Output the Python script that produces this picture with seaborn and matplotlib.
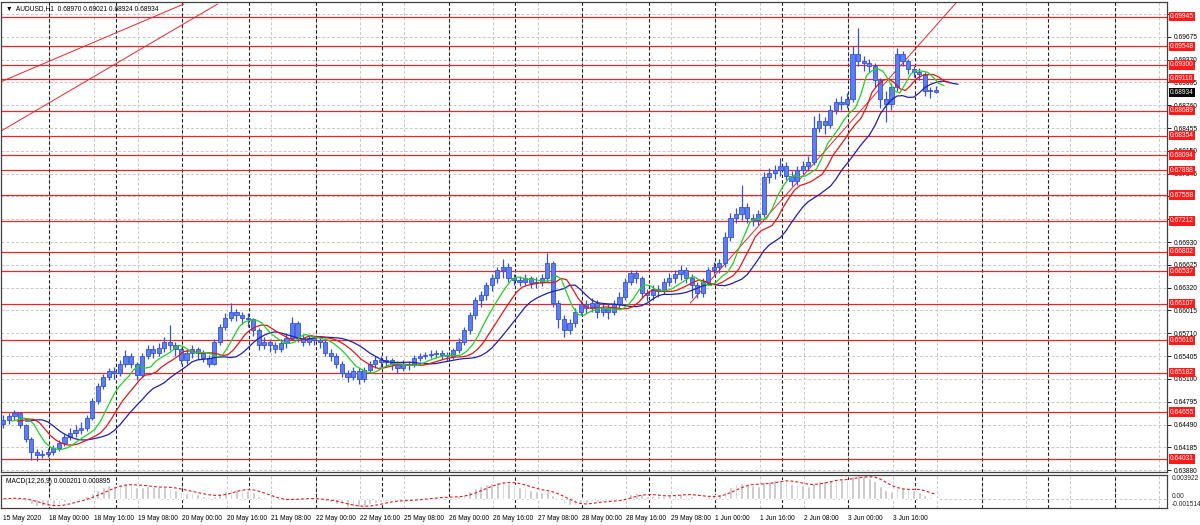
import matplotlib
matplotlib.use("Agg")
import matplotlib.pyplot as plt
import numpy as np
import pandas as pd
import seaborn as sns

# AUDUSD, sampled as 2-hour candles from 15 May 2020 to 4 Jun 2020
close = [
    0.6455, 0.6460, 0.6465, 0.6448, 0.6430, 0.6412, 0.6408, 0.6410, 0.6412, 0.6418,
    0.6424, 0.6432, 0.6438, 0.6442, 0.6445, 0.6458, 0.6480, 0.6500, 0.6512, 0.6520,
    0.6518, 0.6530, 0.6540, 0.6530, 0.6515, 0.6540, 0.6550, 0.6545, 0.6552, 0.6560,
    0.6555, 0.6550, 0.6535, 0.6545, 0.6550, 0.6545, 0.6538, 0.6530, 0.6560, 0.6580,
    0.6592, 0.6600, 0.6596, 0.6592, 0.6590, 0.6575, 0.6555, 0.6560, 0.6555, 0.6550,
    0.6558, 0.6565, 0.6585, 0.6565, 0.6560, 0.6565, 0.6562, 0.6560, 0.6545, 0.6540,
    0.6530, 0.6518, 0.6512, 0.6520, 0.6510, 0.6522, 0.6530, 0.6535, 0.6532, 0.6535,
    0.6530, 0.6525, 0.6530, 0.6528, 0.6538, 0.6540, 0.6542, 0.6543, 0.6545, 0.6542,
    0.6540, 0.6548, 0.6560, 0.6575, 0.6595, 0.6615, 0.6622, 0.6635, 0.6645, 0.6655,
    0.6660, 0.6645, 0.6642, 0.6640, 0.6645, 0.6638, 0.6640, 0.6645, 0.6665, 0.6612,
    0.6590, 0.6575, 0.6585, 0.6600, 0.6610, 0.6605, 0.6612, 0.6600, 0.6605, 0.6600,
    0.6610, 0.6620, 0.6640, 0.6652, 0.6645, 0.6625, 0.6622, 0.6630, 0.6628, 0.6640,
    0.6645, 0.6650, 0.6655, 0.6645, 0.6635, 0.6625, 0.6640, 0.6655, 0.6660, 0.6665,
    0.6700, 0.6725, 0.6730, 0.6740, 0.6725, 0.6722, 0.6730, 0.6780, 0.6785, 0.6790,
    0.6795, 0.6782, 0.6775, 0.6790, 0.6795, 0.6800, 0.6845, 0.6855, 0.6850, 0.6870,
    0.6880, 0.6878, 0.6885, 0.6945, 0.6935, 0.6932, 0.6928, 0.6910, 0.6885, 0.6878,
    0.6900, 0.6945, 0.6935, 0.6925, 0.6920, 0.6918, 0.6895, 0.6897, 0.68934,
]
high = [
    0.6462, 0.6465, 0.6468, 0.6466, 0.6450, 0.6432, 0.6416, 0.6415, 0.6418, 0.6422,
    0.6428, 0.6436, 0.6444, 0.6448, 0.6452, 0.6462, 0.6485, 0.6505, 0.6516, 0.6524,
    0.6526, 0.6535, 0.6548, 0.6545, 0.6532, 0.6544, 0.6556, 0.6555, 0.6558, 0.6566,
    0.6582, 0.6560, 0.6552, 0.6550, 0.6555, 0.6553, 0.6548, 0.6542, 0.6564, 0.6584,
    0.6598, 0.6611, 0.6604, 0.6600, 0.6598, 0.6592, 0.6578, 0.6566, 0.6564, 0.6560,
    0.6564, 0.6572, 0.6593, 0.6588, 0.6570, 0.6570, 0.6568, 0.6566, 0.6562, 0.6550,
    0.6544, 0.6534, 0.6522, 0.6526, 0.6524, 0.6526, 0.6534, 0.6540, 0.6540, 0.6540,
    0.6538, 0.6534, 0.6535, 0.6534, 0.6542, 0.6545, 0.6546, 0.6548, 0.6549, 0.6548,
    0.6546, 0.6552, 0.6565, 0.6580, 0.6600, 0.6620, 0.6628, 0.6640, 0.6650, 0.6660,
    0.6670, 0.6665, 0.6650, 0.6648, 0.6650, 0.6648, 0.6646, 0.6650, 0.6678, 0.6668,
    0.6615, 0.6595, 0.6590, 0.6605, 0.6616, 0.6615, 0.6618, 0.6615, 0.6612, 0.6610,
    0.6615, 0.6626, 0.6645, 0.6656, 0.6655, 0.6648, 0.6630, 0.6636, 0.6636, 0.6645,
    0.6652, 0.6656, 0.6662, 0.6660, 0.6650, 0.6640, 0.6645, 0.6660, 0.6666, 0.6670,
    0.6706, 0.6732, 0.6738, 0.6769, 0.6745, 0.6730, 0.6736, 0.6787, 0.6792, 0.6796,
    0.6806, 0.6800, 0.6788, 0.6795, 0.6802, 0.6808, 0.6862, 0.6866, 0.6860, 0.6876,
    0.6886, 0.6888, 0.6893, 0.6955, 0.6979, 0.6942, 0.6938, 0.6932, 0.6912, 0.6895,
    0.6906, 0.6952, 0.6948, 0.6938, 0.6928, 0.6926, 0.6920, 0.6900, 0.69021,
]
low = [
    0.6445, 0.6450, 0.6455, 0.6444, 0.6426, 0.6402, 0.6400, 0.6404, 0.6406, 0.6408,
    0.6414, 0.6420, 0.6428, 0.6432, 0.6436, 0.6440, 0.6455, 0.6476, 0.6496, 0.6508,
    0.6510, 0.6514, 0.6526, 0.6524, 0.6508, 0.6512, 0.6536, 0.6538, 0.6540, 0.6546,
    0.6548, 0.6540, 0.6530, 0.6530, 0.6538, 0.6536, 0.6532, 0.6526, 0.6528, 0.6556,
    0.6576, 0.6588, 0.6588, 0.6584, 0.6580, 0.6568, 0.6548, 0.6550, 0.6546, 0.6544,
    0.6546, 0.6552, 0.6562, 0.6560, 0.6554, 0.6556, 0.6556, 0.6552, 0.6540, 0.6534,
    0.6524, 0.6512, 0.6506, 0.6508, 0.6503, 0.6506, 0.6518, 0.6524, 0.6526, 0.6526,
    0.6522, 0.6518, 0.6520, 0.6522, 0.6526, 0.6534, 0.6536, 0.6538, 0.6538, 0.6537,
    0.6534, 0.6536, 0.6544, 0.6556, 0.6570, 0.6590, 0.6606, 0.6616, 0.6628, 0.6638,
    0.6645, 0.6640, 0.6636, 0.6634, 0.6635, 0.6632, 0.6632, 0.6634, 0.6640, 0.6606,
    0.6578, 0.6566, 0.6570, 0.6580, 0.6595, 0.6598, 0.6600, 0.6592, 0.6594, 0.6590,
    0.6596, 0.6605, 0.6616, 0.6636, 0.6638, 0.6618, 0.6614, 0.6616, 0.6620, 0.6624,
    0.6634, 0.6638, 0.6642, 0.6638, 0.6618, 0.6618, 0.6620, 0.6636, 0.6650, 0.6652,
    0.6660, 0.6695, 0.6718, 0.6722, 0.6718, 0.6714, 0.6716, 0.6726, 0.6772, 0.6778,
    0.6782, 0.6776, 0.6768, 0.6770, 0.6784, 0.6788, 0.6796, 0.6840, 0.6838, 0.6845,
    0.6864, 0.6870, 0.6872, 0.6880, 0.6928, 0.6922, 0.6920, 0.6900, 0.6872, 0.6853,
    0.6870, 0.6895, 0.6928, 0.6918, 0.6914, 0.6910, 0.6888, 0.6886, 0.68924,
]
first_open = 0.6450
assert len(close) == len(high) == len(low)

# horizontal support / resistance levels (red) and current price
level_prices = [0.69945, 0.69548, 0.69300, 0.69116, 0.68689, 0.68354, 0.68094,
                0.67888, 0.67558, 0.67212, 0.66802, 0.66537, 0.66107, 0.65616,
                0.65182, 0.64655, 0.64031]
last_price = 0.68934

# trend lines as (hour, price) anchor pairs
trend_hours = [[-0.4, 65.5], [-0.4, 77.7], [248.0, 345.0]]
trend_prices = [[0.69074, 0.70114], [0.68414, 0.70114], [0.66114, 0.70180]]

# price grid; the labelled subset is what shows beside the red boxes
price_ticks = [0.63880, 0.64185, 0.64490, 0.64795, 0.65100, 0.65405, 0.65710,
               0.66015, 0.66320, 0.66625, 0.66930, 0.67235, 0.67540, 0.67845,
               0.68150, 0.68455, 0.68760, 0.69065, 0.69370, 0.69675, 0.69980]
hidden_ticks = [0.67235, 0.67540, 0.69980]

time_labels = ["15 May 2020", "18 May 00:00", "18 May 16:00", "19 May 08:00",
               "20 May 00:00", "20 May 16:00", "21 May 08:00", "22 May 00:00",
               "22 May 16:00", "25 May 08:00", "26 May 00:00", "26 May 16:00",
               "27 May 08:00", "28 May 00:00", "28 May 16:00", "29 May 08:00",
               "1 Jun 00:00", "1 Jun 16:00", "2 Jun 08:00", "3 Jun 00:00",
               "3 Jun 16:00"]

# ---- derived frame (x in trading hours since first bar) ----
df = pd.DataFrame({"close": close, "high": high, "low": low})
df["open"] = [first_open] + close[:-1]
df["hour"] = np.arange(len(df)) * 2 + 0.5
median = (df["high"] + df["low"]) / 2

# Alligator (SMMA of median price, shifted forward)
jaw = median.ewm(alpha=1 / 6.5, adjust=False).mean()
teeth = median.ewm(alpha=1 / 4.0, adjust=False).mean()
lips = median.ewm(alpha=1 / 2.5, adjust=False).mean()

# MACD(12,26,9) on hourly -> spans halved for 2-hour bars
macd = (df["close"].ewm(span=6, adjust=False).mean()
        - df["close"].ewm(span=13, adjust=False).mean())
signal = macd.rolling(5, min_periods=1).mean()

# ---- styling ----
sns.set_style("white")
plt.rcParams["font.family"] = ["Liberation Sans", "DejaVu Sans"]
FS = 4.8
GRID = dict(color="#c8c8c8", lw=0.7, ls=(0, (3, 2)), zorder=0)
SEP = dict(color="#202020", lw=0.8, ls=(0, (3, 2)), zorder=0.5)

fig = plt.figure(figsize=(12, 5.25), dpi=100)
ax = fig.add_axes([1 / 1200, 1 - 472 / 525, 1166 / 1200, 470 / 525])
ax2 = fig.add_axes([1 / 1200, 1 - 508 / 525, 1166 / 1200, 33 / 525])

xlim = (-0.36, 419.8)
tick_hours = [0.5] + [17 + 16 * k for k in range(len(time_labels) - 1)]
grid_hours = [17 + 16 * k for k in range(26)]
sep_hours = [17 + 24 * d for d in range(17)]

for a in (ax, ax2):
    a.set_xlim(*xlim)
    for h in grid_hours:
        a.axvline(h, **GRID)
    for h in sep_hours:
        a.axvline(h, **SEP)
    for s in a.spines.values():
        s.set_color("#404040")
        s.set_linewidth(0.9)

# ---- price panel ----
ax.set_ylim(0.63855, 0.70141)
for p in price_ticks:
    ax.axhline(p, **GRID)
for p in level_prices:
    ax.axhline(p, color="#e8262a", lw=0.9, zorder=1)

for th, tp in zip(trend_hours, trend_prices):
    ax.plot(th, tp, color="#e8262a", lw=0.7, zorder=1)

candle_col = "#3552d8"
ax.vlines(df["hour"], df["low"], df["high"], color=candle_col, lw=0.9, zorder=3)
body_lo = np.minimum(df["open"], df["close"])
body_h = np.maximum(np.abs(df["close"] - df["open"]), 0.00004)
ax.bar(df["hour"], body_h, bottom=body_lo, width=1.5, color="#5b7ef0",
       edgecolor=candle_col, linewidth=0.6, zorder=3)

sns.lineplot(x=df["hour"] + 8, y=jaw, ax=ax, color="#2020a8", lw=0.9, zorder=4)
sns.lineplot(x=df["hour"] + 5, y=teeth, ax=ax, color="#e01818", lw=0.9, zorder=4)
sns.lineplot(x=df["hour"] + 3, y=lips, ax=ax, color="#22d022", lw=0.9, zorder=4)

ax.yaxis.tick_right()
ax.set_yticks(price_ticks)
ax.set_yticklabels(["" if p in hidden_ticks else f"{p:.5f}" for p in price_ticks])
ax.tick_params(axis="y", labelsize=FS, length=3, width=0.6, pad=2,
               colors="#000000")
ax.set_xticks([])
ax.set_xlabel("")
ax.set_ylabel("")

lbl_trans = ax.get_yaxis_transform()
for p in level_prices:
    ax.text(1.0025, p, f"{p:.5f}", transform=lbl_trans, fontsize=FS,
            color="white", va="center", ha="left", clip_on=False, zorder=10,
            bbox=dict(boxstyle="square,pad=0.18", fc="#ff1a1a", ec="none"))
ax.text(1.0025, last_price, f"{last_price:.5f}", transform=lbl_trans,
        fontsize=FS, color="white", va="center", ha="left", clip_on=False,
        zorder=11, bbox=dict(boxstyle="square,pad=0.18", fc="#000000", ec="none"))

ax.text(0.004, 0.986, "\u25bc  AUDUSD,H1  0.68970 0.69021 0.68924 0.68934",
        transform=ax.transAxes, fontsize=FS, va="center", ha="left",
        color="#000000", zorder=12)

# ---- MACD panel ----
ax2.set_ylim(-0.001514, 0.003922)
ax2.axhline(0, **GRID)
ax2.bar(df["hour"], macd, width=1.0, color="#c2c2c2", zorder=2)
sns.lineplot(x=df["hour"], y=signal, ax=ax2, color="#e01818", lw=0.8,
             zorder=3, linestyle=(0, (2.5, 2)))
ax2.set_yticks([])
ax2.set_ylabel("")
ax2.set_xticks(tick_hours)
ax2.set_xticklabels(time_labels, ha="left", fontsize=FS)
ax2.tick_params(axis="x", length=3, width=0.6, pad=2, colors="#000000")
ax2.set_xlabel("")
ax2.text(0.004, 0.80, "MACD(12,26,9) 0.000201 0.000895", transform=ax2.transAxes,
         fontsize=FS, va="center", ha="left", color="#000000", zorder=12)
m_trans = ax2.get_yaxis_transform()
ax2.text(1.004, 0.003922, "0.003922", transform=m_trans, fontsize=FS,
         va="top", ha="left", clip_on=False)
ax2.text(1.004, 0.0003, "0.00", transform=m_trans, fontsize=FS,
         va="center", ha="left", clip_on=False)
ax2.text(1.004, -0.001514, "-0.001514", transform=m_trans, fontsize=FS,
         va="bottom", ha="left", clip_on=False)

fig.savefig("out.png", dpi=100)
